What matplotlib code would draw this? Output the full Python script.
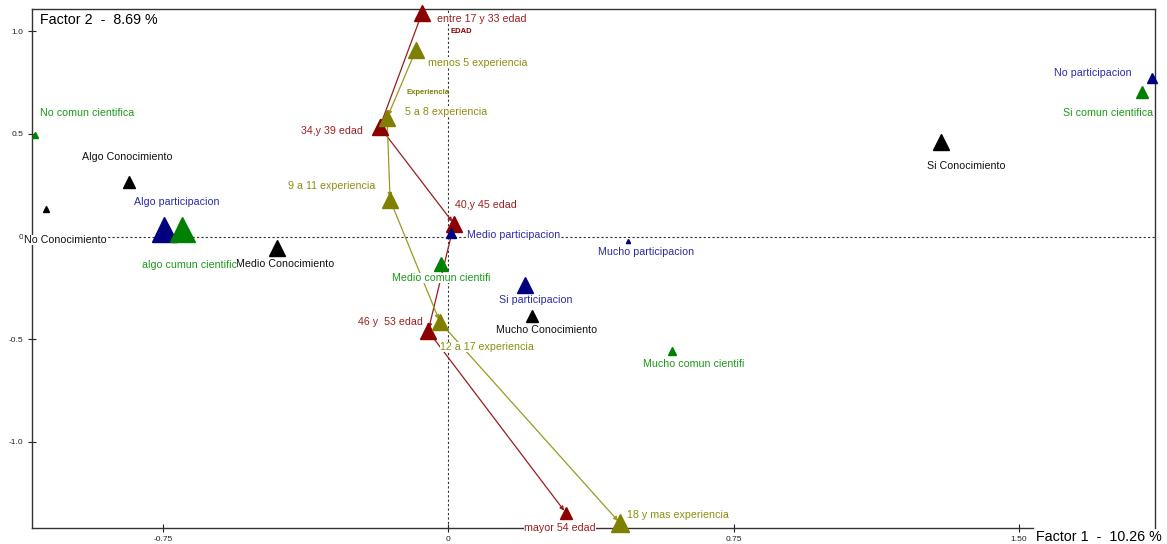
import matplotlib
matplotlib.use('Agg')
import matplotlib.pyplot as plt

plt.rcParams['font.family'] = ['Liberation Sans', 'DejaVu Sans']

# categorias y coordenadas (factor 1, factor 2)
edad_labels = ['entre 17 y 33 edad', '34,y 39 edad', '40,y 45 edad', '46 y  53 edad', 'mayor 54 edad']
edad_x = [-0.069, -0.180, 0.015, -0.053, 0.309]
edad_y = [1.088, 0.533, 0.061, -0.460, -1.345]

exp_labels = ['menos 5 experiencia', '5 a 8 experiencia', '9 a 11 experiencia',
              '12 a 17 experiencia', '18 y mas experiencia']
exp_x = [-0.085, -0.161, -0.153, -0.022, 0.451]
exp_y = [0.908, 0.577, 0.178, -0.416, -1.394]

con_labels = ['Algo Conocimiento', 'No Conocimiento', 'Medio Conocimiento',
              'Mucho Conocimiento', 'Si Conocimiento']
con_x = [-0.839, -1.058, -0.450, 0.220, 1.295]
con_y = [0.265, 0.134, -0.056, -0.387, 0.460]

par_labels = ['Algo participacion', 'Medio participacion', 'Mucho participacion',
              'Si participacion', 'No participacion']
par_x = [-0.747, 0.007, 0.472, 0.201, 1.850]
par_y = [0.036, 0.017, -0.022, -0.236, 0.771]

com_labels = ['No comun cientifica', 'algo cumun cientific', 'Medio comun cientifi',
              'Mucho comun cientifi', 'Si comun cientifica']
com_x = [-1.086, -0.700, -0.019, 0.588, 1.824]
com_y = [0.494, 0.036, -0.134, -0.557, 0.703]

x_ticks = [-0.75, 0, 0.75, 1.50]
x_ticklabels = ['-0.75', '0', '0.75', '1.50']
y_ticks = [1.0, 0.5, 0, -0.5, -1.0]
y_ticklabels = ['1.0', '0.5', '0', '-0.5', '-1.0']

# estilo: tamanos de marcador y posicion de etiquetas (offset en px, alineacion)
edad_ms = [12, 12, 12, 11, 9]
edad_off = [(15, -6, 'left'), (-17, -4, 'right'), (1, 19, 'left'), (-5, 9, 'right'), (-6, -15, 'center')]
exp_ms = [12, 11, 11, 11, 13]
exp_off = [(12, -13, 'left'), (18, 6, 'left'), (-15, 14, 'right'), (0, -25, 'left'), (7, 8, 'left')]
con_ms = [8, 4.5, 12, 8.5, 12]
con_off = [(-2, 25, 'center'), (19, -31, 'center'), (8, -16, 'center'), (15, -14, 'center'), (25, -24, 'center')]
par_ms = [18, 7, 3, 11, 7]
par_off = [(13, 27, 'center'), (16, -2, 'left'), (18, -11, 'center'), (11, -15, 'center'), (-20, 5, 'right')]
com_ms = [4.5, 18, 10, 6, 8.5]
com_off = [(5, 22, 'left'), (7, -36, 'center'), (0, -14, 'center'), (22, -13, 'center'), (-34, -21, 'center')]

W, H = 1167, 544
fig = plt.figure(figsize=(W / 100, H / 100), dpi=100)
ax = fig.add_axes([32 / W, (H - 528) / H, (1155 - 32) / W, (528 - 9) / H])

x0, xs = 448.3, 380.4
y0, ys = 236.5, 205.5
ax.set_xlim((32 - x0) / xs, (1155 - x0) / xs)
ax.set_ylim((y0 - 528) / ys, (y0 - 9) / ys)

ax.axhline(0, color='#333333', lw=0.8, ls=(0, (2, 2)), zorder=1)
ax.axvline(0, color='#333333', lw=0.8, ls=(0, (2, 2)), zorder=1)


def connect(xv, yv, color):
    for i in range(len(xv) - 1):
        ax.annotate('', xy=(xv[i + 1], yv[i + 1]), xytext=(xv[i], yv[i]),
                    arrowprops=dict(arrowstyle='-|>', color=color, lw=0.9,
                                    mutation_scale=6, shrinkA=0, shrinkB=2),
                    zorder=2)


def group(xv, yv, labels, ms, off, mcolor, tcolor):
    for xi, yi, lab, m, (dx, dy, ha) in zip(xv, yv, labels, ms, off):
        ax.plot(xi, yi, marker='^', ms=m, color=mcolor, ls='none', clip_on=False, zorder=4)
        ax.annotate(lab, (xi, yi), xytext=(dx * 0.72, dy * 0.72), textcoords='offset points',
                    ha=ha, va='center', fontsize=7.7, color=tcolor, zorder=3,
                    bbox=dict(fc='white', ec='none', pad=0.3))


connect(edad_x, edad_y, '#9b1c1c')
connect(exp_x, exp_y, '#9a9a20')

group(edad_x, edad_y, edad_labels, edad_ms, edad_off, '#8b0000', '#9b2020')
group(exp_x, exp_y, exp_labels, exp_ms, exp_off, '#808000', '#8e8e10')
group(con_x, con_y, con_labels, con_ms, con_off, '#000000', '#111111')
group(par_x, par_y, par_labels, par_ms, par_off, '#000080', '#2a2aa8')
group(com_x, com_y, com_labels, com_ms, com_off, '#008000', '#1a9a1a')

ax.text(0.033, 1.0, 'EDAD', fontsize=5.5, fontweight='bold', color='#8b0000', ha='center', va='center')
ax.text(-0.053, 0.703, 'Experiencia', fontsize=5.5, fontweight='bold', color='#808000', ha='center', va='center')

ax.set_xticks(x_ticks)
ax.set_xticklabels(x_ticklabels)
ax.set_yticks(y_ticks)
ax.set_yticklabels(y_ticklabels)
ax.tick_params(direction='inout', length=6, width=0.8, labelsize=6, pad=3, colors='#222222')
for s in ax.spines.values():
    s.set_color('#333333')
    s.set_linewidth(1.0)
ax.spines['bottom'].set_bounds((32 - x0) / xs, (1033 - x0) / xs)

ax.text(8 / (1155 - 32), 1 - 11 / (528 - 9), 'Factor 2  -  8.69 %', transform=ax.transAxes,
        fontsize=10.3, ha='left', va='center')
fig.text(1036 / W, (H - 537) / H, 'Factor 1  -  10.26 %', fontsize=10.3, ha='left', va='center')

fig.savefig('out.png', dpi=100)
